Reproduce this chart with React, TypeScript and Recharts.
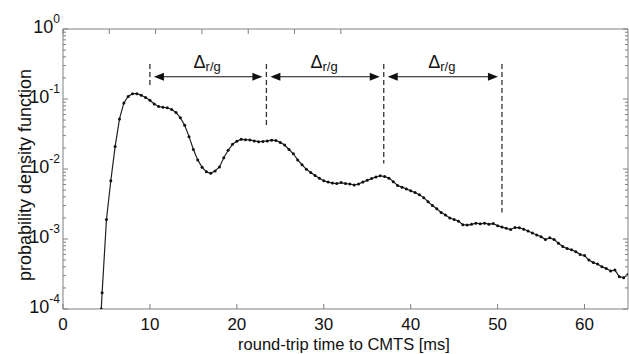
import { LineChart, Line, XAxis, YAxis, ReferenceLine } from 'recharts'

// round-trip time [ms] and estimated pdf values
const rtt = [
    4.4, 4.5, 5, 5.5, 6, 6.5, 7, 7.5, 8, 8.5, 9, 9.5, 10, 10.5, 11, 11.5, 12, 12.5, 13, 13.5,
    14, 14.5, 15, 15.5, 16, 16.5, 17, 17.5, 18, 18.5, 19, 19.5, 20, 20.5, 21, 21.5, 22, 22.5,
    23, 23.5, 24, 24.5, 25, 25.5, 26, 26.5, 27, 27.5, 28, 28.5, 29, 29.5, 30, 30.5, 31, 31.5,
    32, 32.5, 33, 33.5, 34, 34.5, 35, 35.5, 36, 36.5, 37, 37.5, 38, 38.5, 39, 39.5, 40, 40.5,
    41, 41.5, 42, 42.5, 43, 43.5, 44, 44.5, 45, 45.5, 46, 46.5, 47, 47.5, 48, 48.5, 49, 49.5,
    50, 50.5, 51, 51.5, 52, 52.5, 53, 53.5, 54, 54.5, 55, 55.5, 56, 56.5, 57, 57.5, 58, 58.5,
    59, 59.5, 60, 60.5, 61, 61.5, 62, 62.5, 63, 63.5, 64, 64.5, 65,
]
const pdf = [
    0.0001, 0.00017, 0.0019, 0.0068, 0.021, 0.052, 0.088, 0.109, 0.119, 0.119, 0.113, 0.105,
    0.096, 0.085, 0.078, 0.076, 0.075, 0.071, 0.064, 0.054, 0.042, 0.029, 0.019, 0.0135, 0.0106,
    0.0091, 0.0087, 0.0094, 0.0107, 0.0145, 0.0185, 0.0225, 0.025, 0.0265, 0.0262, 0.026, 0.0252,
    0.0246, 0.0248, 0.0252, 0.0258, 0.0255, 0.024, 0.022, 0.019, 0.0165, 0.0135, 0.0115, 0.0099,
    0.0089, 0.0081, 0.0074, 0.0068, 0.0065, 0.0063, 0.0062, 0.0064, 0.0062, 0.0061, 0.0059,
    0.0061, 0.0065, 0.0069, 0.0073, 0.0077, 0.008, 0.0078, 0.0074, 0.0066, 0.0058, 0.0055,
    0.0052, 0.0049, 0.0046, 0.0043, 0.0039, 0.0034, 0.003, 0.0027, 0.0024, 0.0022, 0.002,
    0.0019, 0.0018, 0.0016, 0.00158, 0.00162, 0.00168, 0.00165, 0.00168, 0.00163, 0.00166,
    0.00155, 0.00148, 0.00142, 0.00137, 0.00146, 0.00145, 0.00138, 0.0013, 0.00122, 0.00114,
    0.00108, 0.00098, 0.00104, 0.00098, 0.00087, 0.00078, 0.00073, 0.0007, 0.00066, 0.0006,
    0.00058, 0.0005, 0.00046, 0.00044, 0.0004, 0.00038, 0.00035, 0.00036, 0.00029, 0.00028,
    0.00031,
]

const xTicks = [0, 10, 20, 30, 40, 50, 60]
const yTicks = [
    0.0001, 0.0002, 0.0003, 0.0004, 0.0005, 0.0006, 0.0007, 0.0008, 0.0009,
    0.001, 0.002, 0.003, 0.004, 0.005, 0.006, 0.007, 0.008, 0.009,
    0.01, 0.02, 0.03, 0.04, 0.05, 0.06, 0.07, 0.08, 0.09,
    0.1, 0.2, 0.3, 0.4, 0.5, 0.6, 0.7, 0.8, 0.9, 1,
]

// annotation: dashed markers spaced by Δr/g
const markerTimes = [10, 23.4, 36.9, 50.5]
const markerBottoms = [0.144, 0.0426, 0.012, 0.0024]
const markerTop = 0.316
const arrowLevel = 0.208

const data = rtt.map((t, i) => ({ t, pdf: pdf[i] }))

const FONT = '"Liberation Sans", Arial, Helvetica, sans-serif'
const AXIS = '#808080'
const INK = '#111'

const isMajor = (v: number) => Math.abs(Math.log10(v) - Math.round(Math.log10(v))) < 1e-6

const LeftTick = (props: any) => {
    const { x, y, payload } = props
    const v = payload.value
    const major = isMajor(v)
    const exp = Math.round(Math.log10(v))
    return (
        <g>
            <line x1={x} x2={x + (major ? 5 : 3)} y1={y} y2={y} stroke={AXIS} />
            {major && (
                <text x={x - 3} y={y + 4} textAnchor="end" fontSize={18} fill={INK} fontFamily={FONT}>
                    10<tspan dy={-10} fontSize={12}>{exp}</tspan>
                </text>
            )}
        </g>
    )
}

const RightTick = (props: any) => {
    const { x, y, payload } = props
    const major = isMajor(payload.value)
    return <line x1={x} x2={x - (major ? 5 : 3)} y1={y} y2={y} stroke={AXIS} />
}

const BottomTick = (props: any) => {
    const { x, y, payload } = props
    return (
        <g>
            <line x1={x} x2={x} y1={y} y2={y - 5} stroke={AXIS} />
            <text x={x} y={y + 21} textAnchor="middle" fontSize={17} fill={INK} fontFamily={FONT}>
                {payload.value}
            </text>
        </g>
    )
}

const TopTick = (props: any) => {
    const { x, y } = props
    return <line x1={x} x2={x} y1={y} y2={y + 5} stroke={AXIS} />
}

const Arrow = (props: any) => {
    const { x1, x2, y1 } = props
    const a = x1 + 4
    const b = x2 - 4
    const mid = (x1 + x2) / 2
    return (
        <g>
            <line x1={a + 8} x2={b - 8} y1={y1} y2={y1} stroke={INK} strokeWidth={1.1} />
            <polygon points={`${a},${y1} ${a + 10},${y1 - 4} ${a + 10},${y1 + 4}`} fill={INK} />
            <polygon points={`${b},${y1} ${b - 10},${y1 - 4} ${b - 10},${y1 + 4}`} fill={INK} />
            <text x={mid - 1} y={y1 - 9} textAnchor="middle" fontSize={18} fill={INK} fontFamily={FONT}>
                Δ<tspan fontSize={13} dy={3}>r/g</tspan>
            </text>
        </g>
    )
}

export default function App() {
    return (
        <div style={{ position: 'absolute', left: 0, top: 0, width: 629, height: 354, background: '#fff' }}>
            <LineChart width={629} height={354} data={data} margin={{ top: 28, right: 0, bottom: 0, left: 0 }}>
                <XAxis
                    xAxisId="b"
                    dataKey="t"
                    type="number"
                    domain={[0, 65]}
                    ticks={xTicks}
                    interval={0}
                    height={45}
                    stroke={AXIS}
                    tickLine={false}
                    tickSize={0}
                    tickMargin={0}
                    tick={<BottomTick />}
                    allowDataOverflow
                />
                <XAxis
                    xAxisId="top"
                    orientation="top"
                    type="number"
                    domain={[0, 65]}
                    ticks={xTicks}
                    interval={0}
                    height={1}
                    stroke={AXIS}
                    tickLine={false}
                    tickSize={0}
                    tickMargin={0}
                    tick={<TopTick />}
                    allowDataOverflow
                />
                <YAxis
                    yAxisId="l"
                    type="number"
                    scale="log"
                    domain={[0.0001, 1]}
                    ticks={yTicks}
                    interval={0}
                    width={63}
                    stroke={AXIS}
                    tickLine={false}
                    tickSize={0}
                    tickMargin={0}
                    tick={<LeftTick />}
                    allowDataOverflow
                />
                <YAxis
                    yAxisId="r"
                    orientation="right"
                    type="number"
                    scale="log"
                    domain={[0.0001, 1]}
                    ticks={yTicks}
                    interval={0}
                    width={1}
                    stroke={AXIS}
                    tickLine={false}
                    tickSize={0}
                    tickMargin={0}
                    tick={<RightTick />}
                    allowDataOverflow
                />
                {markerTimes.map((t, i) => (
                    <ReferenceLine
                        key={'m' + i}
                        xAxisId="b"
                        yAxisId="l"
                        segment={[{ x: t, y: markerTop }, { x: t, y: markerBottoms[i] }]}
                        stroke="#333"
                        strokeWidth={1.3}
                        strokeDasharray="5 3"
                    />
                ))}
                {markerTimes.slice(0, -1).map((t, i) => (
                    <ReferenceLine
                        key={'a' + i}
                        xAxisId="b"
                        yAxisId="l"
                        segment={[{ x: t, y: arrowLevel }, { x: markerTimes[i + 1], y: arrowLevel }]}
                        shape={Arrow}
                    />
                ))}
                <Line
                    xAxisId="b"
                    yAxisId="l"
                    type="linear"
                    dataKey="pdf"
                    stroke="#222"
                    strokeWidth={1.2}
                    dot={{ r: 1.5, fill: INK, stroke: 'none' }}
                    isAnimationActive={false}
                />
                <text x={26} y={175} transform="rotate(-90 26 175)" textAnchor="middle" dominantBaseline="middle" fontSize={18} fill={INK} fontFamily={FONT}>
                    probability density function
                </text>
                <text x={344} y={350} textAnchor="middle" fontSize={16.5} fill={INK} fontFamily={FONT}>
                    round-trip time to CMTS [ms]
                </text>
            </LineChart>
        </div>
    )
}
